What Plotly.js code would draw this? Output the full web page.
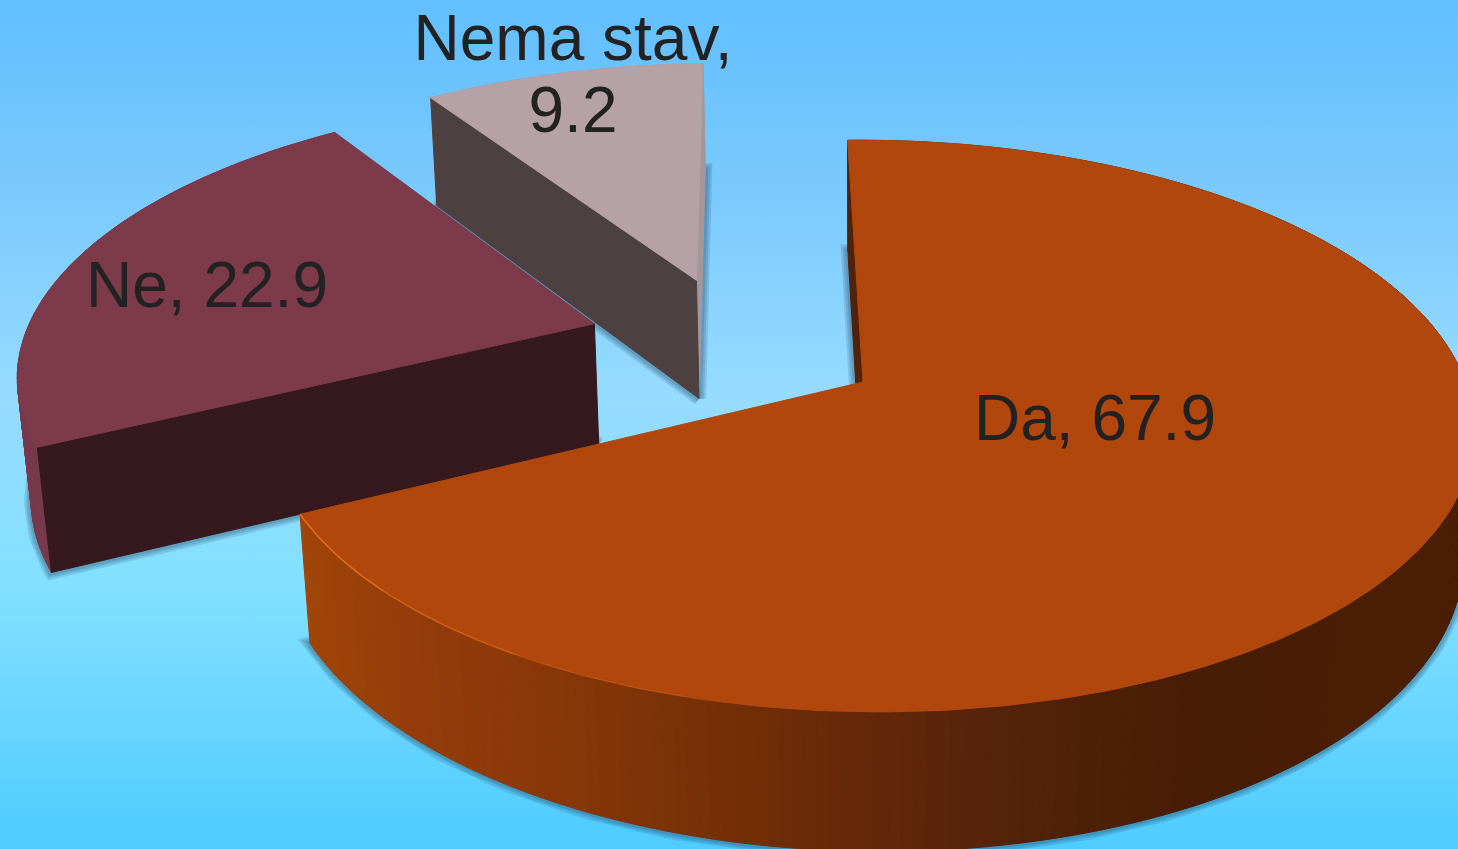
<!DOCTYPE html>
<html>
<head>
<meta charset="utf-8">
<script src="https://cdn.plot.ly/plotly-3.0.1.min.js"></script>
<style>
html,body{margin:0;padding:0;width:1458px;height:849px;overflow:hidden;
background:linear-gradient(180deg,#62bfff 0%,#78c8fd 20%,#96dcff 47%,#82e0ff 70%,#4ecbff 100%);}
#chart{width:1458px;height:849px;}
</style>
</head>
<body>
<div id="chart"></div>
<script>
// data
const categories = ['Da', 'Ne', 'Nema stav'];
const values = [67.9, 22.9, 9.2];

// styles
const topColors = ['#b1470c', '#7c3a4b', '#b5a1a6'];
const cutColors = ['#52210a', '#36181f', '#4c4140'];
const endCutColors = [null, null, '#a3979c'];
const arcShades = [[300,'#a04508'],[400,'#953d0a'],[600,'#843508'],[800,'#6b2b07'],[1000,'#55220a'],[1200,'#481d05'],[1460,'#4a1e05']];
const sideFlat = [null, '#773a4c', '#a3979c'];
const pulls = [[0, 0], [-0.468, -0.21], [-0.297, -0.383]];
const labelSpots = [[1095, 424], [207, 291], [573, 44], [573, 116]];

// view
const view = {cx: 863, cy: 382, s: 596, t: 279, p: 0.154, r: 0.013, e: 4, q: 0.017, h: 126, start: -1.7};

function proj(X, Y, Z) {
  const w = 1 - view.p * Y - view.r * X + view.q * Z;
  return [view.cx + view.s * X / w, view.cy + (view.t * Y + view.h * Z) / w + view.e * X];
}
function dir(a) { const r = a * Math.PI / 180; return [Math.sin(r), -Math.cos(r)]; }
function hex(c) { return [1,3,5].map(i => parseInt(c.substr(i,2),16)); }
function shadeAt(x) {
  for (let i = 0; i < arcShades.length - 1; i++) {
    const a = arcShades[i], b = arcShades[i+1];
    if (x <= b[0]) {
      const f = Math.max(0, (x - a[0]) / (b[0] - a[0]));
      const A = hex(a[1]), B = hex(b[1]);
      return 'rgb(' + A.map((v,k) => Math.round(v + (B[k]-v)*f)).join(',') + ')';
    }
  }
  return arcShades[arcShades.length-1][1];
}

const total = values.reduce((a,b) => a+b, 0);
let ang = view.start;
const slices = values.map((v, i) => {
  const a0 = ang, a1 = ang + v / total * 360; ang = a1;
  return {i, a0, a1, c: pulls[i]};
});

function arcPts(sl, Z, from, to) {
  const n = Math.max(2, Math.ceil(Math.abs(to - from)));
  const pts = [];
  for (let k = 0; k <= n; k++) {
    const d = dir(from + (to - from) * k / n);
    pts.push(proj(sl.c[0] + d[0], sl.c[1] + d[1], Z));
  }
  return pts;
}
function poly(pts, fill) {
  const xs = pts.map(p => p[0]), ys = pts.map(p => p[1]);
  xs.push(xs[0]); ys.push(ys[0]);
  return {type:'scatter', mode:'lines', x:xs, y:ys, fill:'toself', fillcolor:fill,
    line:{color:fill, width:1}, hoverinfo:'skip', showlegend:false};
}

const traces = [];
// soft shadows from the bottom faces
slices.forEach(sl => {
  const base = [proj(sl.c[0], sl.c[1], 1)].concat(arcPts(sl, 1, sl.a0, sl.a1));
  [14, 10, 6].forEach(w => {
    const xs = base.map(p => p[0]), ys = base.map(p => p[1]);
    xs.push(xs[0]); ys.push(ys[0]);
    traces.push({type:'scatter', mode:'lines', x:xs, y:ys, line:{color:'rgba(30,60,90,0.15)', width:w},
      hoverinfo:'skip', showlegend:false});
  });
});
// slices back to front
[2, 1, 0].forEach(idx => {
  const sl = slices[idx];
  const apexT = proj(sl.c[0], sl.c[1], 0), apexB = proj(sl.c[0], sl.c[1], 1);
  const s0T = arcPts(sl, 0, sl.a0, sl.a0 + 0.001)[0], s0B = arcPts(sl, 1, sl.a0, sl.a0 + 0.001)[0];
  const s1T = arcPts(sl, 0, sl.a1, sl.a1 + 0.001)[0], s1B = arcPts(sl, 1, sl.a1, sl.a1 + 0.001)[0];
  // outer wall
  const steps = Math.ceil(sl.a1 - sl.a0);
  for (let k = 0; k < steps; k++) {
    const a = sl.a0 + (sl.a1 - sl.a0) * k / steps, b = sl.a0 + (sl.a1 - sl.a0) * (k + 1) / steps;
    const T = arcPts(sl, 0, a, b), B = arcPts(sl, 1, b, a);
    const col = sideFlat[idx] || shadeAt((T[0][0] + T[T.length - 1][0]) / 2);
    traces.push(poly(T.concat(B), col));
  }
  // cut faces
  if (endCutColors[idx]) traces.push(poly([apexT, s1T, s1B, apexB], endCutColors[idx]));
  traces.push(poly([apexT, s0T, s0B, apexB], cutColors[idx]));
  // top face
  traces.push(poly([apexT].concat(arcPts(sl, 0, sl.a0, sl.a1)), topColors[idx]));
  if (idx === 0) {
    [[24, 0.25], [16, 0.45], [8, 0.7]].forEach(h => {
      const hl = arcPts(sl, 0, sl.a1 - h[0] * 2, sl.a1);
      traces.push({type:'scatter', mode:'lines', x:hl.map(p=>p[0]), y:hl.map(p=>p[1]),
        line:{color:'rgba(232,110,30,' + h[1] + ')', width:1.5}, hoverinfo:'skip', showlegend:false});
    });
  }
});
// labels
const labelTexts = [
  categories[0] + ', ' + values[0].toFixed(1),
  categories[1] + ', ' + values[1].toFixed(1),
  categories[2] + ',',
  values[2].toFixed(1)
];
traces.push({type:'scatter', mode:'text', x:labelSpots.map(p=>p[0]), y:labelSpots.map(p=>p[1]),
  text:labelTexts, textposition:'middle center',
  textfont:{family:'"Liberation Sans", Arial, sans-serif', size:64, color:'#222222'},
  hoverinfo:'skip', showlegend:false, cliponaxis:false});

Plotly.newPlot('chart', traces, {
  width:1458, height:849, margin:{l:0,r:0,t:0,b:0},
  paper_bgcolor:'rgba(0,0,0,0)', plot_bgcolor:'rgba(0,0,0,0)', showlegend:false,
  xaxis:{range:[0,1458], visible:false, fixedrange:true},
  yaxis:{range:[849,0], visible:false, fixedrange:true}
}, {displayModeBar:false, staticPlot:true});
</script>
</body>
</html>
